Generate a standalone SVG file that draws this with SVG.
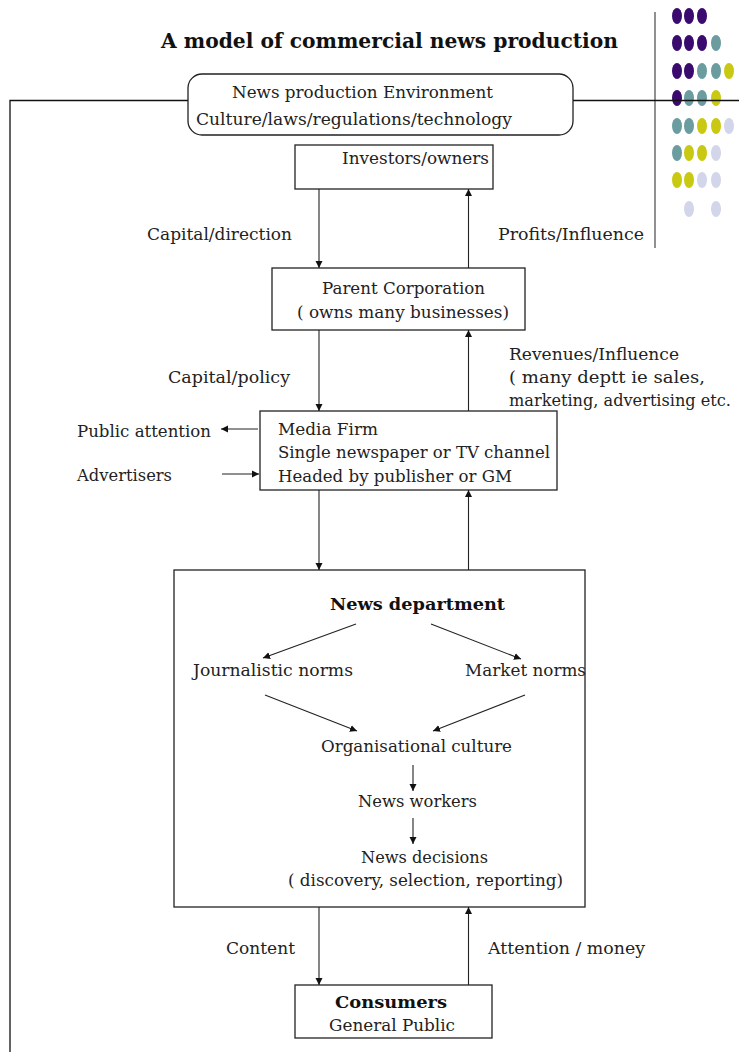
<svg xmlns="http://www.w3.org/2000/svg" width="739" height="1052" viewBox="0 0 739 1052">
  <defs>
    <marker id="ah" viewBox="0 0 10 10" refX="10" refY="5" markerWidth="7" markerHeight="8" markerUnits="userSpaceOnUse" orient="auto">
      <path d="M0,0 L10,5 L0,10 Z" fill="#111"/>
    </marker>
  </defs>
  <style>
    text { font-family: "DejaVu Serif", "Liberation Serif", serif; font-size: 17.5px; fill: #222; }
    .b { font-weight: bold; fill: #111; }
    .title { font-size: 21px; }
    .sm { font-size: 16px; }
    .box { fill: #fff; stroke: #222; stroke-width: 1.3; }
    .open { fill: none; stroke: #222; stroke-width: 1.3; }
    .conn line { stroke: #222; stroke-width: 1.1; marker-end: url(#ah); }
    .frame { stroke: #111; stroke-width: 1.3; fill: none; }
    .p { fill: #3b0a6e; } .t { fill: #6b9da0; } .y { fill: #c9c914; } .l { fill: #d3d6ea; }
  </style>
  <rect width="739" height="1052" fill="#fff"/>

  <!-- corner dot pattern -->
  <g id="dots">
    <ellipse class="p" cx="677" cy="16" rx="5" ry="8"/><ellipse class="p" cx="689" cy="16" rx="5" ry="8"/><ellipse class="p" cx="702" cy="16" rx="5" ry="8"/>
    <ellipse class="p" cx="677" cy="43" rx="5" ry="8"/><ellipse class="p" cx="689" cy="43" rx="5" ry="8"/><ellipse class="p" cx="702" cy="43" rx="5" ry="8"/><ellipse class="t" cx="716" cy="43" rx="5" ry="8"/>
    <ellipse class="p" cx="677" cy="71" rx="5" ry="8"/><ellipse class="p" cx="689" cy="71" rx="5" ry="8"/><ellipse class="t" cx="702" cy="71" rx="5" ry="8"/><ellipse class="t" cx="716" cy="71" rx="5" ry="8"/><ellipse class="y" cx="729" cy="71" rx="5" ry="8"/>
    <ellipse class="p" cx="677" cy="98" rx="5" ry="8"/><ellipse class="t" cx="689" cy="98" rx="5" ry="8"/><ellipse class="t" cx="702" cy="98" rx="5" ry="8"/><ellipse class="y" cx="716" cy="98" rx="5" ry="8"/>
    <ellipse class="t" cx="677" cy="126" rx="5" ry="8"/><ellipse class="t" cx="689" cy="126" rx="5" ry="8"/><ellipse class="y" cx="702" cy="126" rx="5" ry="8"/><ellipse class="y" cx="716" cy="126" rx="5" ry="8"/><ellipse class="l" cx="729" cy="126" rx="5" ry="8"/>
    <ellipse class="t" cx="677" cy="153" rx="5" ry="8"/><ellipse class="y" cx="689" cy="153" rx="5" ry="8"/><ellipse class="y" cx="702" cy="153" rx="5" ry="8"/><ellipse class="l" cx="716" cy="153" rx="5" ry="8"/>
    <ellipse class="y" cx="677" cy="180" rx="5" ry="8"/><ellipse class="y" cx="689" cy="180" rx="5" ry="8"/><ellipse class="l" cx="702" cy="180" rx="5" ry="8"/><ellipse class="l" cx="716" cy="180" rx="5" ry="8"/>
    <ellipse class="l" cx="689" cy="209" rx="5" ry="8"/><ellipse class="l" cx="716" cy="209" rx="5" ry="8"/>
  </g>

  <!-- frame lines -->
  <g id="frame">
    <line x1="655" y1="12" x2="655" y2="248" stroke="#555" stroke-width="1.3"/>
    <polyline class="frame" points="10,1052 10,100.5 188,100.5"/>
    <line class="frame" x1="573" y1="100.5" x2="739" y2="100.5"/>
  </g>

  <text class="b title" x="161" y="48" textLength="457" lengthAdjust="spacingAndGlyphs">A model of commercial news production</text>

  <!-- connector labels -->
  <g id="labels">
    <text x="147" y="240" textLength="145" lengthAdjust="spacingAndGlyphs">Capital/direction</text>
    <text x="498" y="240" textLength="146" lengthAdjust="spacingAndGlyphs">Profits/Influence</text>
    <text x="168" y="383" textLength="122" lengthAdjust="spacingAndGlyphs">Capital/policy</text>
    <text x="509" y="360" textLength="170" lengthAdjust="spacingAndGlyphs">Revenues/Influence</text>
    <text x="509" y="383" textLength="196" lengthAdjust="spacingAndGlyphs">( many deptt ie sales,</text>
    <text class="sm" x="509" y="406" textLength="222" lengthAdjust="spacingAndGlyphs">marketing, advertising etc.</text>
    <text x="77" y="437" textLength="134" lengthAdjust="spacingAndGlyphs">Public attention</text>
    <text x="77" y="481" textLength="95" lengthAdjust="spacingAndGlyphs">Advertisers</text>
    <text x="226" y="954" textLength="69" lengthAdjust="spacingAndGlyphs">Content</text>
    <text x="488" y="954" textLength="157" lengthAdjust="spacingAndGlyphs">Attention / money</text>
  </g>

  <g id="environment">
    <rect class="box" x="188" y="74" width="385" height="61" rx="14"/>
    <text x="232" y="98" textLength="261" lengthAdjust="spacingAndGlyphs">News production Environment</text>
    <text x="196" y="125" textLength="316" lengthAdjust="spacingAndGlyphs">Culture/laws/regulations/technology</text>
  </g>

  <g id="investors">
    <rect class="box" x="295" y="145" width="198" height="44"/>
    <text x="342" y="164" textLength="147" lengthAdjust="spacingAndGlyphs">Investors/owners</text>
  </g>

  <g id="parent">
    <rect class="box" x="272" y="268" width="253" height="62"/>
    <text x="322" y="294" textLength="163" lengthAdjust="spacingAndGlyphs">Parent Corporation</text>
    <text x="297" y="318" textLength="212" lengthAdjust="spacingAndGlyphs">( owns many businesses)</text>
  </g>

  <g id="media-firm">
    <rect class="box" x="260" y="411" width="297" height="79"/>
    <text x="278" y="435" textLength="100" lengthAdjust="spacingAndGlyphs">Media Firm</text>
    <text x="278" y="458" textLength="272" lengthAdjust="spacingAndGlyphs">Single newspaper or TV channel</text>
    <text x="278" y="482" textLength="234" lengthAdjust="spacingAndGlyphs">Headed by publisher or GM</text>
  </g>

  <g id="news-department">
    <rect class="open" x="174" y="570" width="411" height="337"/>
    <text class="b" x="330" y="610" textLength="175" lengthAdjust="spacingAndGlyphs">News department</text>
  </g>
  <g id="journalistic-norms">
    <text x="193" y="676" textLength="160" lengthAdjust="spacingAndGlyphs">Journalistic norms</text>
  </g>
  <g id="market-norms">
    <text x="465" y="676" textLength="121" lengthAdjust="spacingAndGlyphs">Market norms</text>
  </g>
  <g id="organisational-culture">
    <text x="321" y="752" textLength="191" lengthAdjust="spacingAndGlyphs">Organisational culture</text>
  </g>
  <g id="news-workers">
    <text x="358" y="807" textLength="119" lengthAdjust="spacingAndGlyphs">News workers</text>
  </g>
  <g id="news-decisions">
    <text x="361" y="863" textLength="127" lengthAdjust="spacingAndGlyphs">News decisions</text>
    <text x="288" y="886" textLength="275" lengthAdjust="spacingAndGlyphs">( discovery, selection, reporting)</text>
  </g>

  <g id="consumers">
    <rect class="box" x="295" y="985" width="197" height="53"/>
    <text class="b" x="335" y="1008" textLength="112" lengthAdjust="spacingAndGlyphs">Consumers</text>
    <text x="329" y="1031" textLength="126" lengthAdjust="spacingAndGlyphs">General Public</text>
  </g>

  <!-- connectors -->
  <g class="conn" id="connectors">
    <line x1="319" y1="189" x2="319" y2="268"/>
    <line x1="468.5" y1="268" x2="468.5" y2="189"/>
    <line x1="319" y1="330" x2="319" y2="411"/>
    <line x1="468.5" y1="411" x2="468.5" y2="330"/>
    <line x1="258" y1="429" x2="221" y2="429"/>
    <line x1="222" y1="474" x2="259" y2="474"/>
    <line x1="319" y1="490" x2="319" y2="570"/>
    <line x1="468.5" y1="570" x2="468.5" y2="490"/>
    <line x1="356" y1="624" x2="263" y2="658"/>
    <line x1="431" y1="624" x2="521" y2="659"/>
    <line x1="265" y1="695" x2="357" y2="731"/>
    <line x1="525" y1="695" x2="433" y2="731"/>
    <line x1="413" y1="765" x2="413" y2="791"/>
    <line x1="413" y1="818" x2="413" y2="844"/>
    <line x1="319" y1="907" x2="319" y2="985"/>
    <line x1="468.5" y1="985" x2="468.5" y2="907"/>
  </g>
</svg>
